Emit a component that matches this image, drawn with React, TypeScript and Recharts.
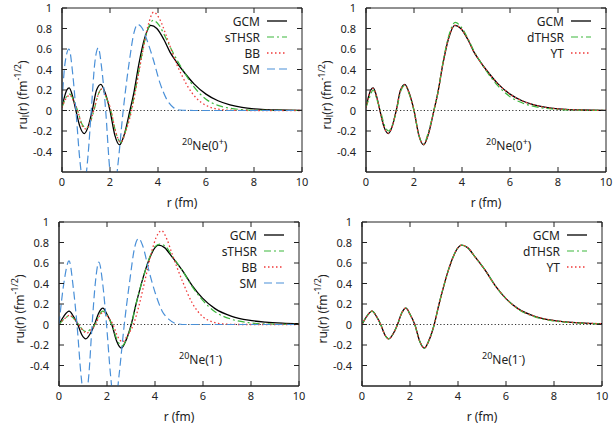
import { LineChart, Line, XAxis, YAxis, ReferenceLine, CartesianGrid } from "recharts";

const xTicks = [0, 2, 4, 6, 8, 10];
const yTicks = [-0.4, -0.2, 0, 0.2, 0.4, 0.6, 0.8, 1];
const X_MIN = 0, X_MAX = 10, Y_MIN = -0.6, Y_MAX = 1;

// 20Ne(0+) : [r, r*u_l(r)]
const gcm0 = [[0,0.03],[0.1,0.13],[0.2,0.2],[0.3,0.22],[0.45,0.13],[0.58,0],[0.75,-0.16],[0.93,-0.225],[1.1,-0.15],[1.26,0],[1.44,0.2],[1.62,0.255],[1.8,0.17],[2.0,0],[2.2,-0.24],[2.4,-0.335],[2.6,-0.23],[2.83,0],[3.0,0.18],[3.2,0.45],[3.45,0.71],[3.7,0.83],[3.95,0.8],[4.25,0.69],[4.5,0.57],[4.75,0.48],[5.0,0.4],[5.5,0.26],[6.0,0.16],[6.5,0.095],[7.0,0.055],[7.5,0.03],[8.0,0.016],[8.5,0.009],[9.0,0.005],[10,0.001]];
const sthsr0 = [[0,0.03],[0.15,0.12],[0.33,0.16],[0.5,0.09],[0.65,0],[0.85,-0.14],[1.03,-0.17],[1.2,-0.1],[1.33,0],[1.5,0.15],[1.65,0.21],[1.84,0.13],[2.03,0],[2.25,-0.22],[2.45,-0.31],[2.65,-0.2],[2.88,0],[3.05,0.19],[3.25,0.45],[3.5,0.73],[3.8,0.88],[4.05,0.83],[4.3,0.72],[4.55,0.6],[4.8,0.49],[5.0,0.41],[5.5,0.23],[6.0,0.11],[6.5,0.05],[7.0,0.022],[7.5,0.009],[8.0,0.004],[9.0,0.001],[10,0]];
const bb0 = [[0,0.03],[0.15,0.11],[0.33,0.15],[0.5,0.08],[0.65,0],[0.84,-0.15],[1.0,-0.18],[1.18,-0.11],[1.32,0],[1.5,0.15],[1.66,0.21],[1.85,0.13],[2.04,0],[2.25,-0.22],[2.45,-0.31],[2.66,-0.2],[2.9,0],[3.1,0.24],[3.35,0.56],[3.6,0.84],[3.82,0.96],[4.05,0.9],[4.36,0.72],[4.6,0.56],[4.8,0.44],[5.0,0.34],[5.2,0.25],[5.6,0.12],[6.0,0.05],[6.5,0.013],[7.0,0.003],[8.0,0],[10,0]];
const sm0 = [[0,0.08],[0.12,0.45],[0.29,0.6],[0.45,0.35],[0.58,0],[0.75,-0.5],[0.92,-0.74],[1.08,-0.45],[1.22,0],[1.36,0.45],[1.51,0.61],[1.66,0.4],[1.82,0],[1.98,-0.55],[2.15,-0.85],[2.32,-0.55],[2.55,0],[2.8,0.47],[3.0,0.76],[3.15,0.84],[3.35,0.8],[3.55,0.68],[3.8,0.5],[4.08,0.27],[4.36,0.11],[4.64,0.03],[4.9,0.005],[5.5,0],[10,0]];
const dthsr0 = [[0,0.03],[0.15,0.13],[0.3,0.2],[0.45,0.11],[0.6,0],[0.78,-0.15],[0.95,-0.2],[1.1,-0.14],[1.27,0],[1.45,0.19],[1.62,0.245],[1.8,0.16],[2.0,0],[2.2,-0.24],[2.4,-0.33],[2.6,-0.21],[2.83,0],[3.0,0.18],[3.2,0.46],[3.45,0.73],[3.72,0.86],[3.95,0.82],[4.25,0.7],[4.5,0.58],[4.75,0.48],[5.0,0.39],[5.5,0.24],[6.0,0.135],[6.5,0.075],[7.0,0.04],[7.5,0.02],[8.0,0.01],[9.0,0.003],[10,0.001]];
const yt0 = [[0,0.03],[0.1,0.13],[0.2,0.2],[0.3,0.215],[0.45,0.13],[0.58,0],[0.75,-0.16],[0.93,-0.22],[1.1,-0.15],[1.26,0],[1.44,0.2],[1.62,0.25],[1.8,0.17],[2.0,0],[2.2,-0.24],[2.4,-0.33],[2.6,-0.23],[2.83,0],[3.0,0.18],[3.2,0.45],[3.45,0.71],[3.7,0.83],[3.95,0.8],[4.25,0.69],[4.5,0.57],[4.75,0.48],[5.0,0.4],[5.5,0.26],[6.0,0.16],[6.5,0.095],[7.0,0.055],[7.5,0.03],[8.0,0.016],[8.5,0.009],[9.0,0.005],[10,0.001]];

// 20Ne(1-)
const gcm1 = [[0,0],[0.2,0.08],[0.42,0.13],[0.6,0.08],[0.78,0],[0.95,-0.1],[1.12,-0.14],[1.3,-0.09],[1.48,0],[1.65,0.11],[1.83,0.16],[2.0,0.1],[2.2,0],[2.4,-0.16],[2.6,-0.23],[2.8,-0.15],[3.01,0],[3.2,0.19],[3.4,0.37],[3.6,0.53],[3.8,0.66],[4.0,0.75],[4.15,0.775],[4.4,0.75],[4.71,0.66],[5.13,0.53],[5.55,0.38],[5.97,0.26],[6.5,0.155],[7.2,0.08],[7.9,0.042],[8.6,0.023],[9.3,0.013],[10,0.008]];
const sthsr1 = [[0,0],[0.2,0.05],[0.45,0.085],[0.65,0.05],[0.82,0],[0.98,-0.05],[1.16,-0.07],[1.34,-0.04],[1.5,0],[1.65,0.08],[1.82,0.13],[2.0,0.09],[2.2,0],[2.42,-0.15],[2.62,-0.21],[2.82,-0.14],[3.02,0],[3.2,0.19],[3.4,0.37],[3.6,0.53],[3.8,0.67],[4.0,0.76],[4.2,0.785],[4.45,0.76],[4.71,0.67],[5.13,0.53],[5.55,0.37],[5.97,0.24],[6.5,0.125],[7.2,0.05],[7.9,0.018],[8.6,0.006],[10,0.001]];
const bb1 = [[0,0],[0.2,0.05],[0.45,0.09],[0.65,0.05],[0.82,0],[1.0,-0.06],[1.15,-0.085],[1.34,-0.05],[1.52,0],[1.7,0.09],[1.87,0.12],[2.05,0.07],[2.25,0],[2.45,-0.12],[2.65,-0.17],[2.87,-0.1],[3.1,0],[3.35,0.2],[3.6,0.45],[3.85,0.7],[4.05,0.85],[4.27,0.915],[4.5,0.83],[4.71,0.69],[5.13,0.43],[5.55,0.21],[5.97,0.08],[6.4,0.025],[6.8,0.006],[7.5,0],[10,0]];
const sm1 = [[0,0],[0.2,0.4],[0.42,0.62],[0.6,0.35],[0.75,0],[0.92,-0.5],[1.08,-0.76],[1.24,-0.5],[1.38,0],[1.52,0.42],[1.66,0.61],[1.82,0.4],[1.98,0],[2.15,-0.5],[2.33,-0.82],[2.5,-0.5],[2.72,0],[2.95,0.43],[3.15,0.75],[3.32,0.84],[3.5,0.76],[3.74,0.53],[4.02,0.3],[4.3,0.13],[4.58,0.05],[4.86,0.01],[5.3,0],[10,0]];
const dthsr1 = [[0,0],[0.2,0.08],[0.42,0.13],[0.6,0.08],[0.78,0],[0.95,-0.1],[1.12,-0.14],[1.3,-0.09],[1.48,0],[1.65,0.11],[1.83,0.16],[2.0,0.1],[2.2,0],[2.4,-0.16],[2.6,-0.23],[2.8,-0.15],[3.01,0],[3.2,0.19],[3.4,0.37],[3.6,0.53],[3.8,0.66],[4.0,0.75],[4.15,0.775],[4.4,0.75],[4.71,0.66],[5.13,0.53],[5.55,0.38],[5.97,0.26],[6.5,0.15],[7.2,0.075],[7.9,0.038],[8.6,0.02],[9.3,0.011],[10,0.006]];
const yt1 = [[0,0],[0.2,0.08],[0.42,0.13],[0.6,0.08],[0.78,0],[0.95,-0.1],[1.12,-0.14],[1.3,-0.09],[1.48,0],[1.65,0.11],[1.83,0.16],[2.0,0.1],[2.2,0],[2.4,-0.16],[2.6,-0.23],[2.8,-0.15],[3.01,0],[3.2,0.19],[3.4,0.37],[3.6,0.53],[3.8,0.66],[4.0,0.75],[4.15,0.775],[4.4,0.75],[4.71,0.66],[5.13,0.53],[5.55,0.38],[5.97,0.26],[6.5,0.155],[7.2,0.08],[7.9,0.042],[8.6,0.023],[9.3,0.013],[10,0.008]];

const FONT = "'Noto Sans', 'Open Sans', sans-serif";
const AXIS = "#222";
const TXT = "#222";

// chart box; the plot area is what is left after margins and axes
const CW = 316, CH = 215;
const M = { top: 8, right: 14, bottom: 0, left: 22 };
const X_AXIS_H = 43, Y_AXIS_W = 40;
const PLOT_W = CW - M.left - M.right - Y_AXIS_W;
const PLOT_H = CH - M.top - M.bottom - X_AXIS_H;
const TICK_LEN = 5;

const styles: Record<string, { color: string; dash?: string; width: number }> = {
  GCM: { color: "#000000", width: 1.3 },
  sTHSR: { color: "#3db83d", dash: "7 3 2 3", width: 1.2 },
  dTHSR: { color: "#3db83d", dash: "7 3 2 3", width: 1.2 },
  BB: { color: "#f03a3a", dash: "1.5 2.5", width: 1.3 },
  YT: { color: "#f03a3a", dash: "1.5 2.5", width: 1.3 },
  SM: { color: "#4a90d8", dash: "8 4", width: 1.2 },
};

const pts = (a: number[][]) => a.map(([r, v]) => ({ r, v }));

type Series = { name: string; data: number[][] };

// gnuplot style: tick marks point into the plot, mirrored on the opposite side
const BottomTick = ({ x, y, payload }: any) => (
  <g>
    <line x1={x} x2={x} y1={y} y2={y - TICK_LEN} stroke={AXIS} strokeWidth={1} />
    <line x1={x} x2={x} y1={y - PLOT_H} y2={y - PLOT_H + TICK_LEN} stroke={AXIS} strokeWidth={1} />
    <text x={x} y={y + 14} textAnchor="middle" fontFamily={FONT} fontSize={11} fill={TXT}>
      {payload.value}
    </text>
  </g>
);
const LeftTick = ({ x, y, payload }: any) => (
  <g>
    <line x1={x} x2={x + TICK_LEN} y1={y} y2={y} stroke={AXIS} strokeWidth={1} />
    <line x1={x + PLOT_W} x2={x + PLOT_W - TICK_LEN} y1={y} y2={y} stroke={AXIS} strokeWidth={1} />
    <text x={x - 10} y={y + 4} textAnchor="end" fontFamily={FONT} fontSize={11} fill={TXT}>
      {payload.value}
    </text>
  </g>
);

const LegendBox = ({ series }: { series: Series[] }) => (
  <div style={{ position: "absolute", left: 182, top: 13, fontFamily: FONT, fontSize: 12, color: TXT }}>
    {series.map((s) => {
      const st = styles[s.name];
      return (
        <div key={s.name} style={{ display: "flex", alignItems: "center", height: 16 }}>
          <span style={{ width: 78, textAlign: "right" }}>{s.name}</span>
          <svg width={27} height={16} style={{ display: "block" }}>
            <line x1={7} x2={27} y1={8} y2={8} stroke={st.color} strokeWidth={st.width} strokeDasharray={st.dash} />
          </svg>
        </div>
      );
    })}
  </div>
);

const YLabel = ({ viewBox }: any) => {
  const cx = viewBox.x;
  const cy = viewBox.y + viewBox.height / 2 + 5;
  return (
    <text
      x={cx}
      y={cy}
      transform={`rotate(-90 ${cx} ${cy})`}
      textAnchor="middle"
      dominantBaseline="central"
      fontFamily={FONT}
      fontSize={12}
      fill={TXT}
    >
      <tspan>ru</tspan>
      <tspan dy={3} fontSize={9}>l</tspan>
      <tspan dy={-3}>(r) (fm</tspan>
      <tspan dy={-5} fontSize={9}>-1/2</tspan>
      <tspan dy={5}>)</tspan>
    </text>
  );
};

const Panel = ({
  left,
  top,
  series,
  state,
}: {
  left: number;
  top: number;
  series: Series[];
  state: [string, string];
}) => (
  <div style={{ position: "absolute", left, top, width: CW, height: CH }}>
    <LineChart width={CW} height={CH} margin={M}>
      {/* plot frame */}
      <CartesianGrid
        stroke={AXIS}
        strokeWidth={1}
        horizontalCoordinatesGenerator={({ offset }: any) => [offset.top, offset.top + offset.height]}
        verticalCoordinatesGenerator={({ offset }: any) => [offset.left, offset.left + offset.width]}
      />
      <XAxis
        dataKey="r"
        type="number"
        domain={[X_MIN, X_MAX]}
        ticks={xTicks}
        interval={0}
        allowDataOverflow
        height={X_AXIS_H}
        tickLine={false}
        tickSize={0}
        tickMargin={0}
        stroke={AXIS}
        tick={<BottomTick />}
        label={{ value: "r (fm)", position: "insideBottom", offset: 8, fill: TXT, fontSize: 12, fontFamily: FONT }}
      />
      <YAxis
        type="number"
        domain={[Y_MIN, Y_MAX]}
        ticks={yTicks}
        interval={0}
        allowDataOverflow
        width={Y_AXIS_W}
        tickLine={false}
        tickSize={0}
        tickMargin={0}
        stroke={AXIS}
        tick={<LeftTick />}
        label={{ content: YLabel }}
      />
      <ReferenceLine y={0} stroke="#333" strokeDasharray="1.2 2.2" strokeWidth={1.2} />
      {series.map((s) => {
        const st = styles[s.name];
        return (
          <Line
            key={s.name}
            data={pts(s.data)}
            dataKey="v"
            name={s.name}
            type="monotone"
            stroke={st.color}
            strokeWidth={st.width}
            strokeDasharray={st.dash}
            dot={false}
            activeDot={false}
            isAnimationActive={false}
          />
        );
      })}
    </LineChart>
    <LegendBox series={series} />
    <div style={{ position: "absolute", left: 182, top: 135, fontFamily: FONT, fontSize: 12, color: TXT, whiteSpace: "nowrap" }}>
      <sup style={{ fontSize: 9 }}>20</sup>Ne({state[0]}
      <sup style={{ fontSize: 9 }}>{state[1]}</sup>)
    </div>
  </div>
);

export default function App() {
  return (
    <div style={{ position: "absolute", left: 0, top: 0, width: 613, height: 431, background: "#fff", overflow: "hidden" }}>
      <Panel
        left={0}
        top={0}
        state={["0", "+"]}
        series={[
          { name: "GCM", data: gcm0 },
          { name: "sTHSR", data: sthsr0 },
          { name: "BB", data: bb0 },
          { name: "SM", data: sm0 },
        ]}
      />
      <Panel
        left={304}
        top={0}
        state={["0", "+"]}
        series={[
          { name: "GCM", data: gcm0 },
          { name: "dTHSR", data: dthsr0 },
          { name: "YT", data: yt0 },
        ]}
      />
      <Panel
        left={-3}
        top={214}
        state={["1", "-"]}
        series={[
          { name: "GCM", data: gcm1 },
          { name: "sTHSR", data: sthsr1 },
          { name: "BB", data: bb1 },
          { name: "SM", data: sm1 },
        ]}
      />
      <Panel
        left={300}
        top={214}
        state={["1", "-"]}
        series={[
          { name: "GCM", data: gcm1 },
          { name: "dTHSR", data: dthsr1 },
          { name: "YT", data: yt1 },
        ]}
      />
    </div>
  );
}
